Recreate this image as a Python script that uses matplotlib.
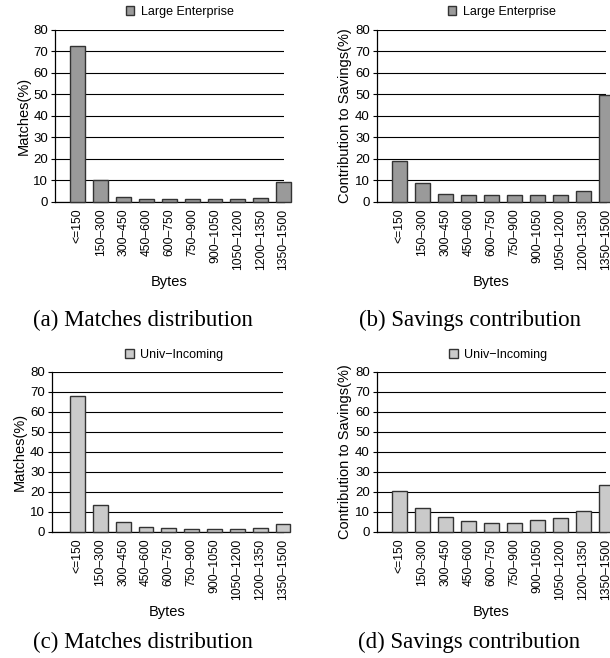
import numpy as np
import matplotlib
matplotlib.use("Agg")
import matplotlib.pyplot as plt
from matplotlib.patches import Patch

plt.rcParams['font.family'] = ['Liberation Sans', 'DejaVu Sans']

# Data
bins = ['<=150', '150\u2013300', '300\u2013450', '450\u2013600', '600\u2013750',
        '750\u2013900', '900\u20131050', '1050\u20131200', '1200\u20131350', '1350\u20131500']
ent_matches = [72.5, 10.0, 2.0, 1.2, 1.2, 1.2, 1.2, 1.2, 1.5, 9.3]
ent_savings = [19.1, 8.5, 3.5, 3.0, 3.0, 3.0, 3.3, 3.3, 5.0, 49.7]
univ_matches = [67.8, 13.6, 5.0, 2.5, 1.7, 1.3, 1.5, 1.5, 2.0, 4.0]
univ_savings = [20.6, 11.7, 7.5, 5.3, 4.3, 4.6, 6.0, 6.8, 10.5, 23.2]

ent_color = '#9a9a9a'
univ_color = '#cacaca'

W, H = 610, 658
fig = plt.figure(figsize=(W / 100, H / 100), dpi=100)


def px_axes(left, top, right, bottom):
    return fig.add_axes([left / W, 1 - bottom / H, (right - left) / W, (bottom - top) / H])


def draw(ax, values, color, name, ylabel, xmin, legx):
    x = np.arange(len(bins))
    ax.set_axisbelow(True)
    ax.yaxis.grid(True, color='black', linewidth=0.8)
    ax.bar(x, values, width=0.65, color=color, edgecolor='#333333',
           linewidth=1.0, clip_on=False, zorder=3)
    ax.set_xlim(xmin, 9)
    ax.set_ylim(0, 80)
    ax.set_yticks(range(0, 81, 10))
    ax.set_xticks(x)
    ax.set_xticklabels(bins, rotation=90, fontsize=8.7)
    ax.tick_params(axis='x', length=0, pad=5)
    ax.tick_params(axis='y', labelsize=9.5, length=3, pad=2)
    for s in ['top', 'right']:
        ax.spines[s].set_visible(False)
    ax.spines['left'].set_linewidth(0.9)
    ax.spines['bottom'].set_linewidth(0.9)
    ax.set_ylabel(ylabel, fontsize=10.5, labelpad=2)
    ax.set_xlabel('Bytes', fontsize=10.5, labelpad=4)
    handle = Patch(facecolor=color, edgecolor='#333333', linewidth=1.0, label=name)
    ax.legend(handles=[handle], loc='center', bbox_to_anchor=(legx, 1.105),
              frameon=False, fontsize=9, handlelength=0.7, handleheight=0.7,
              handletextpad=0.5, borderaxespad=0)


ax_a = px_axes(55, 30, 283.6, 201.7)
draw(ax_a, ent_matches, ent_color, 'Large Enterprise', 'Matches(%)', -1, 0.545)
ax_b = px_axes(376.7, 30, 606, 201.7)
draw(ax_b, ent_savings, ent_color, 'Large Enterprise', 'Contribution to Savings(%)', -1, 0.545)
ax_c = px_axes(51.7, 371.7, 283, 531.7)
draw(ax_c, univ_matches, univ_color, 'Univ\u2212Incoming', 'Matches(%)', -1.13, 0.53)
ax_d = px_axes(376.7, 371.7, 606, 531.7)
draw(ax_d, univ_savings, univ_color, 'Univ\u2212Incoming', 'Contribution to Savings(%)', -1, 0.53)

captions = [('(a) Matches distribution', 143, 320),
            ('(b) Savings contribution', 470, 320),
            ('(c) Matches distribution', 143, 642),
            ('(d) Savings contribution', 469, 642)]
for text, cx, cy in captions:
    fig.text(cx / W, 1 - cy / H, text, ha='center', va='center',
             fontsize=16.5, family=['Liberation Serif', 'DejaVu Serif'])

fig.savefig('out.png', dpi=100)
